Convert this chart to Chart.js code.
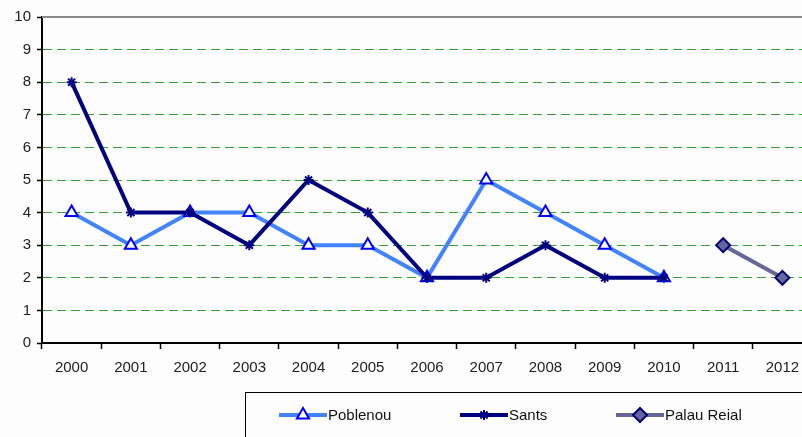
<!DOCTYPE html>
<html>
<head>
<meta charset="utf-8">
<script src="https://cdn.jsdelivr.net/npm/chart.js@4"></script>
<style>
  body { margin: 0; overflow: hidden; background: #fdfdfd; }
  #wrap { width: 830px; height: 437px; position: relative; }
</style>
</head>
<body>
<div id="wrap"><canvas id="lineChart"></canvas></div>
<script>
const years = ['2000', '2001', '2002', '2003', '2004', '2005', '2006', '2007', '2008', '2009', '2010', '2011', '2012'];
const poblenou = [4, 3, 4, 4, 3, 3, 2, 5, 4, 3, 2, null, null];
const sants = [8, 4, 4, 3, 5, 4, 2, 2, 3, 2, 2, null, null];
const palauReial = [null, null, null, null, null, null, null, null, null, null, null, 3, 2];
const seriesNames = ['Poblenou', 'Sants', 'Palau Reial'];

const fontFamily = '"Liberation Sans", Arial, sans-serif';

// top gray line + boxed legend at the bottom
const extras = {
    id: 'extras',
    afterDraw(chart) {
        const ctx = chart.ctx;
        const area = chart.chartArea;
        ctx.save();
        ctx.strokeStyle = '#8a8a8a';
        ctx.lineWidth = 2;
        ctx.beginPath();
        ctx.moveTo(area.left, area.top);
        ctx.lineTo(area.right, area.top);
        ctx.stroke();

        ctx.strokeStyle = '#000';
        ctx.lineWidth = 1;
        ctx.strokeRect(245.5, 392.5, 600, 60);

        const items = [
            { x: 279, ds: chart.data.datasets[0] },
            { x: 460, ds: chart.data.datasets[1] },
            { x: 616, ds: chart.data.datasets[2] }
        ];
        const y = 415;
        items.forEach(it => {
            ctx.strokeStyle = it.ds.borderColor;
            ctx.lineWidth = 4;
            ctx.beginPath();
            ctx.moveTo(it.x, y);
            ctx.lineTo(it.x + 48, y);
            ctx.stroke();
            ctx.fillStyle = it.ds.pointBackgroundColor;
            ctx.strokeStyle = it.ds.pointBorderColor;
            ctx.lineWidth = it.ds.pointBorderWidth;
            Chart.helpers.drawPoint(ctx, {
                pointStyle: it.ds.pointStyle,
                radius: it.ds.pointRadius,
                borderWidth: it.ds.pointBorderWidth,
                rotation: 0
            }, it.x + 24, y);
            ctx.fillStyle = '#111';
            ctx.font = '15px ' + fontFamily;
            ctx.textAlign = 'left';
            ctx.textBaseline = 'middle';
            ctx.fillText(it.ds.label, it.x + 49, y + 1);
        });
        ctx.restore();
    }
};

new Chart(document.getElementById('lineChart').getContext('2d'), {
    type: 'line',
    data: {
        labels: years,
        datasets: [{
            label: seriesNames[0],
            data: poblenou,
            borderColor: '#4283ff',
            borderWidth: 4,
            pointStyle: 'triangle',
            pointRadius: 7,
            pointBackgroundColor: '#ffffff',
            pointBorderColor: '#0000ff',
            pointBorderWidth: 2,
            tension: 0,
            order: 2
        }, {
            label: seriesNames[1],
            data: sants,
            borderColor: '#000080',
            borderWidth: 4,
            pointStyle: 'star',
            pointRadius: 5,
            pointBackgroundColor: '#000080',
            pointBorderColor: '#000080',
            pointBorderWidth: 2,
            tension: 0,
            order: 1
        }, {
            label: seriesNames[2],
            data: palauReial,
            borderColor: '#666699',
            borderWidth: 4,
            pointStyle: 'rectRot',
            pointRadius: 7,
            pointBackgroundColor: '#666699',
            pointBorderColor: '#000080',
            pointBorderWidth: 2,
            tension: 0,
            order: 0
        }]
    },
    options: {
        responsive: true,
        maintainAspectRatio: false,
        animation: false,
        layout: { padding: { top: 17, right: 18, bottom: 54, left: 0 } },
        plugins: {
            legend: { display: false },
            tooltip: { enabled: false }
        },
        scales: {
            x: {
                offset: true,
                grid: {
                    offset: true,
                    drawOnChartArea: false,
                    tickLength: 6,
                    tickColor: '#000',
                    tickWidth: 1.5
                },
                border: { color: '#000', width: 2 },
                ticks: {
                    color: '#222',
                    padding: 10,
                    maxRotation: 0,
                    font: { family: fontFamily, size: 15 }
                },
                afterFit: s => { s.height = 40; }
            },
            y: {
                min: 0,
                max: 10,
                ticks: {
                    stepSize: 1,
                    color: '#222',
                    padding: 6,
                    font: { family: fontFamily, size: 15 }
                },
                grid: {
                    color: ctx => (ctx.tick && (ctx.tick.value === 0 || ctx.tick.value === 10)) ? 'rgba(0,0,0,0)' : '#2ea52e',
                    lineWidth: 1,
                    tickLength: 5,
                    tickColor: '#000',
                    tickWidth: 1.5
                },
                border: { color: '#000', width: 2, dash: [9, 5] },
                afterFit: s => { s.width = 42; }
            }
        }
    },
    plugins: [extras]
});
</script>
</body>
</html>
